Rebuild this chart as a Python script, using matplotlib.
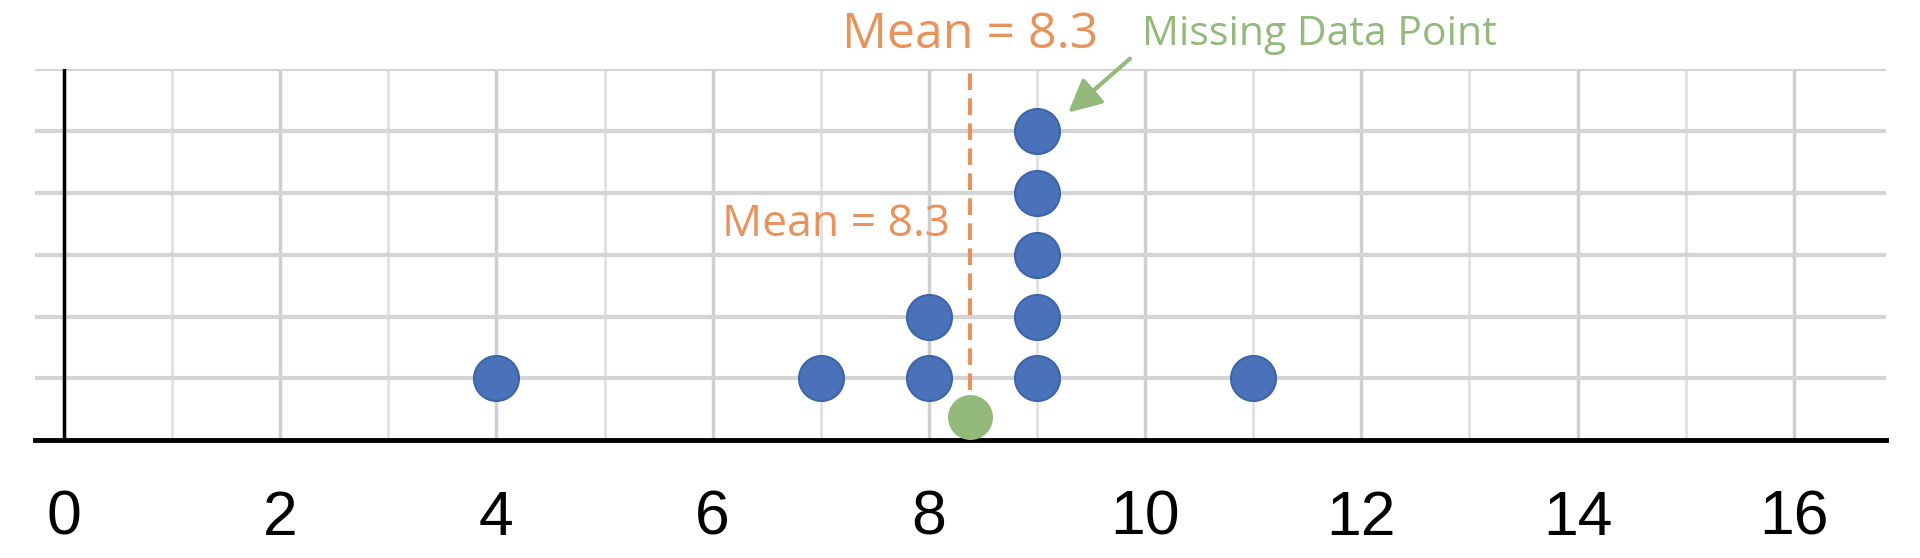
import matplotlib.pyplot as plt

# dot plot data
values = [4, 7, 8, 8, 9, 9, 9, 9, 9, 11]
missing_x = 8.38
missing_y = 0.38
mean_x = 8.38
mean_label = "Mean = 8.3"
missing_label = "Missing Data Point"
tick_vals = [0, 2, 4, 6, 8, 10, 12, 14, 16]

blue = "#4a72b8"
green = "#93b97b"
orange = "#e8935c"

# stack the dots
xs, ys = [], []
seen = {}
for v in values:
    seen[v] = seen.get(v, 0) + 1
    xs.append(v)
    ys.append(seen[v])

fig = plt.figure(figsize=(19.2, 5.58), dpi=100)
ax = fig.add_axes([0.0181, 0.211, 0.964, 0.665])
ax.set_xlim(-0.27, 16.85)
ax.set_ylim(0, 6)

for s in ["top", "right", "left"]:
    ax.spines[s].set_visible(False)
ax.spines["bottom"].set_linewidth(3.5)
ax.spines["bottom"].set_color("black")
ax.spines["bottom"].set_zorder(5)

ax.set_xticks(tick_vals)
ax.set_xticks(range(1, 17, 2), minor=True)
ax.set_yticks(range(1, 7))
ax.set_yticklabels([])
ax.tick_params(axis="both", which="both", length=0)
ax.tick_params(axis="x", pad=35, labelsize=45)
for lab in ax.get_xticklabels():
    lab.set_fontfamily("Liberation Sans")

ax.grid(axis="x", which="major", color="#cfcfcf", linewidth=2.5)
ax.grid(axis="x", which="minor", color="#e2e2e2", linewidth=2.2)
ax.grid(axis="y", which="major", color="#d4d4d4", linewidth=3)
ax.set_axisbelow(True)

# y axis line at zero
ax.plot([0, 0], [0, 6], color="black", linewidth=2.5, zorder=4)

ax.scatter(xs, ys, s=1050, color=blue, edgecolors="#3d63a8", linewidths=1.5,
           zorder=6)
ax.scatter([missing_x], [missing_y], s=1050, color=green, zorder=6,
           linewidths=0, clip_on=False)

ax.plot([mean_x, mean_x], [0, 6], color=orange, linewidth=3,
        linestyle=(0, (4, 2)), zorder=3)

ax.text(mean_x, 6.55, mean_label, color=orange, fontsize=36,
        family="Open Sans", ha="center", va="center")
ax.text(8.2, 3.48, mean_label, color=orange, fontsize=32,
        family="Open Sans", ha="right", va="center")
ax.text(9.97, 6.55, missing_label, color=green, fontsize=29.5,
        family="Open Sans", ha="left", va="center")

ax.annotate("", xy=(9.27, 5.27), xytext=(9.88, 6.2),
            arrowprops=dict(arrowstyle="-|>,head_length=2.0,head_width=1.0",
                            color=green, lw=3),
            annotation_clip=False)

fig.savefig("out.png", dpi=100)
